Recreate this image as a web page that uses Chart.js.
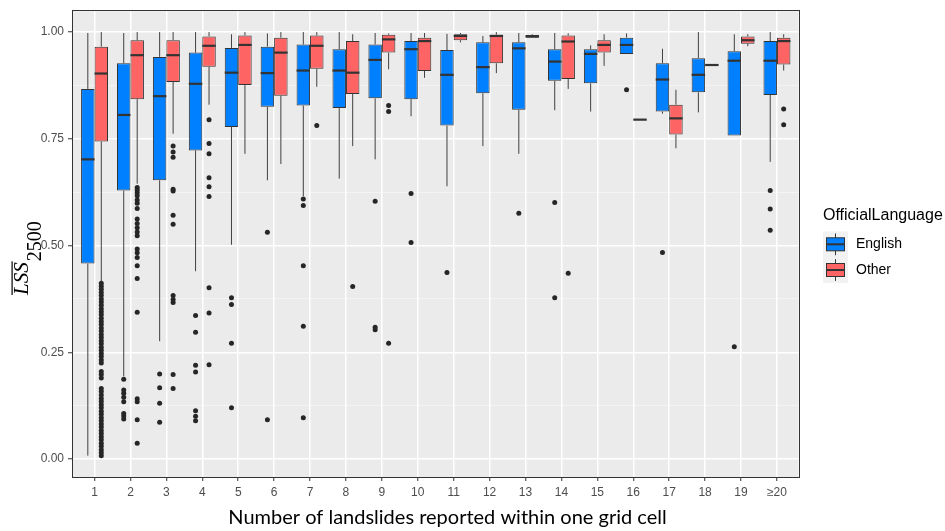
<!DOCTYPE html>
<html>
<head>
<meta charset="utf-8">
<script src="https://cdn.jsdelivr.net/npm/chart.js@4.4.1/dist/chart.umd.min.js"></script>
<style>
  html, body { margin: 0; padding: 0; background: #fff; }
</style>
</head>
<body>
<canvas id="lssChart" width="945" height="531"></canvas>
<script>
// Categorias (número de deslizamentos por célula)
const xLabels = ['1','2','3','4','5','6','7','8','9','10','11','12','13','14','15','16','17','18','19','≥20'];
const categoryPositions = [1,2,3,4,5,6,7,8,9,10,11,12,13,14,15,16,17,18,19,20];

// Eixo Y
const yTickValues = [0, 0.25, 0.5, 0.75, 1];
const yMinorValues = [0.125, 0.375, 0.625, 0.875];

// English
const englishLow    = [0.008,0.194,0.276,0.440,0.502,0.653,0.616,0.657,0.702,0.803,0.639,0.733,0.715,0.817,0.814,0.949,0.809,0.812,0.758,0.696];
const englishQ1     = [0.458,0.629,0.653,0.723,0.778,0.825,0.828,0.822,0.845,0.843,0.781,0.857,0.818,0.886,0.880,0.949,0.814,0.859,0.758,0.853];
const englishMedian = [0.702,0.806,0.850,0.879,0.905,0.904,0.910,0.910,0.935,0.960,0.900,0.918,0.962,0.931,0.949,0.970,0.889,0.900,0.933,0.933];
const englishQ3     = [0.867,0.927,0.942,0.952,0.963,0.966,0.971,0.960,0.971,0.979,0.958,0.976,0.976,0.960,0.960,0.987,0.927,0.939,0.955,0.979];
const englishHigh   = [0.998,0.998,1.000,1.000,0.995,0.997,1.000,1.000,0.998,0.998,0.996,0.991,0.998,0.998,0.969,0.997,0.961,1.000,0.995,1.000];
const englishOutliers = [
    [],
    [0.187,0.162,0.154,0.145,0.134,0.107,0.101,0.094],
    [0.199,0.167,0.131,0.086],
    [0.336,0.297,0.220,0.204,0.113,0.100,0.090],
    [0.378,0.362,0.271,0.120],
    [0.531,0.092],
    [0.609,0.594,0.453,0.311,0.097],
    [],
    [0.604,0.309,0.303],
    [0.622,0.507],
    [0.437],
    [],
    [0.576],
    [0.601,0.378],
    [],
    [0.865],
    [0.484],
    [],
    [0.263],
    [0.629,0.586,0.536]
];

// Other
const otherLow    = [0.412,0.645,0.762,0.830,0.715,0.691,0.872,0.733,0.913,0.893,0.976,0.904,0.987,0.867,0.921,0.795,0.728,0.923,0.967,0.910];
const otherQ1     = [0.744,0.843,0.883,0.919,0.876,0.851,0.914,0.855,0.952,0.909,0.981,0.927,0.987,0.890,0.952,0.795,0.760,0.923,0.973,0.924];
const otherMedian = [0.903,0.946,0.946,0.968,0.970,0.952,0.968,0.905,0.983,0.979,0.991,0.991,0.990,0.978,0.970,0.795,0.798,0.923,0.981,0.979];
const otherQ3     = [0.966,0.981,0.981,0.990,0.992,0.987,0.992,0.979,0.994,0.987,0.995,0.994,0.993,0.992,0.981,0.795,0.830,0.923,0.990,0.987];
const otherHigh   = [1.000,1.000,1.000,1.000,1.000,1.000,1.000,0.995,0.997,0.998,0.998,1.000,0.995,0.997,0.995,0.795,0.865,0.923,0.995,0.995];
const otherOutliers = [
    [0.412,0.405,0.398,0.390,0.383,0.375,0.368,0.360,0.352,0.345,0.338,0.330,0.322,0.315,0.307,0.300,0.292,0.285,0.277,0.270,
     0.262,0.255,0.247,0.240,0.232,0.225,0.205,0.198,0.190,0.165,0.158,0.150,0.142,0.135,0.127,0.120,0.112,0.105,0.097,0.090,
     0.082,0.075,0.067,0.060,0.052,0.045,0.037,0.030,0.022,0.015,0.008],
    [0.636,0.630,0.624,0.617,0.607,0.599,0.587,0.562,0.552,0.542,0.532,0.523,0.492,0.483,0.472,0.453,0.423,0.344,0.141,0.134,0.092,0.037],
    [0.733,0.719,0.707,0.632,0.628,0.571,0.550,0.383,0.374,0.367,0.198,0.165],
    [0.795,0.739,0.715,0.659,0.638,0.615,0.401,0.342,0.221],
    [],
    [],
    [0.781],
    [0.404],
    [0.828,0.814,0.271],
    [],
    [],
    [],
    [],
    [0.435],
    [],
    [],
    [],
    [],
    [],
    [0.820,0.783]
];

const legendTitle = 'OfficialLanguage';
const xTitle = 'Number of landslides reported within one grid cell';

// Monta os dados das caixas (Q1 até Q3) como barras flutuantes
function boxData(q1, q3) {
    return categoryPositions.map((x, i) => ({ x: x, y: [q1[i], q3[i]] }));
}

function isMajor(v) {
    return yTickValues.some(t => Math.abs(t - v) < 1e-9);
}

Chart.defaults.font.family = '"Liberation Sans", Arial, sans-serif';

// Fundo cinza do painel
const panelBackground = {
    id: 'panelBackground',
    beforeDraw(chart) {
        const { ctx, chartArea: a } = chart;
        ctx.save();
        ctx.fillStyle = '#EBEBEB';
        ctx.fillRect(a.left, a.top, a.right - a.left, a.bottom - a.top);
        ctx.restore();
    }
};

// Bigodes, medianas e outliers
const boxPlotParts = {
    id: 'boxPlotParts',
    afterDatasetsDraw(chart) {
        const c = chart.ctx;
        const y = chart.scales.y;
        chart.data.datasets.forEach((ds, d) => {
            const meta = chart.getDatasetMeta(d);
            const s = ds.stats;
            meta.data.forEach((bar, i) => {
                const x = bar.x;
                const half = bar.width / 2;
                c.save();
                c.strokeStyle = '#404040';
                c.lineWidth = 1;
                c.beginPath();
                c.moveTo(x, y.getPixelForValue(s.high[i]));
                c.lineTo(x, y.getPixelForValue(s.q3[i]));
                c.moveTo(x, y.getPixelForValue(s.q1[i]));
                c.lineTo(x, y.getPixelForValue(s.low[i]));
                c.stroke();

                const ym = y.getPixelForValue(s.median[i]);
                c.strokeStyle = '#333333';
                c.lineWidth = 2.2;
                c.beginPath();
                c.moveTo(x - half, ym);
                c.lineTo(x + half, ym);
                c.stroke();

                c.fillStyle = '#262626';
                s.outliers[i].forEach(v => {
                    c.beginPath();
                    c.arc(x, y.getPixelForValue(v), 2.5, 0, Math.PI * 2);
                    c.fill();
                });
                c.restore();
            });
        });
    }
};

// Borda do painel, títulos dos eixos e legenda
const decorations = {
    id: 'decorations',
    afterDraw(chart) {
        const c = chart.ctx;
        const a = chart.chartArea;
        c.save();
        c.strokeStyle = '#333333';
        c.lineWidth = 1;
        c.strokeRect(Math.round(a.left) - 0.5, Math.round(a.top) - 0.5, Math.round(a.right - a.left) + 1, Math.round(a.bottom - a.top) + 1);

        // título do eixo X
        c.fillStyle = '#000000';
        c.textAlign = 'center';
        c.textBaseline = 'middle';
        c.font = '20px Lato';
        c.fillText(xTitle, 447.5, 518);

        // título do eixo Y: LSS com barra e índice 2500
        c.translate(28, 295);
        c.rotate(-Math.PI / 2);
        c.textAlign = 'left';
        c.textBaseline = 'alphabetic';
        c.font = 'italic 21px "Liberation Serif"';
        c.fillText('LSS', 0, 0);
        const w = c.measureText('LSS').width;
        c.fillRect(0, -16.5, w + 1, 1.2);
        c.font = '20px "Liberation Serif"';
        c.fillText('2500', w + 1, 13);
        c.restore();

        // legenda
        c.save();
        c.textAlign = 'left';
        c.textBaseline = 'middle';
        c.fillStyle = '#000000';
        c.font = '16px "Liberation Sans"';
        c.fillText(legendTitle, 823, 215.5);
        chart.data.datasets.forEach((ds, d) => {
            const top = 231.5 + d * 25.7;
            const cy = top + 12.8;
            c.fillStyle = '#F2F2F2';
            c.fillRect(823, top, 25, 25.7);
            c.strokeStyle = '#333333';
            c.lineWidth = 1;
            c.beginPath();
            c.moveTo(835.5, top + 2);
            c.lineTo(835.5, top + 23.7);
            c.stroke();
            c.fillStyle = ds.backgroundColor;
            c.fillRect(826.5, cy - 6.5, 18, 13);
            c.strokeRect(826.5, cy - 6.5, 18, 13);
            c.lineWidth = 2;
            c.beginPath();
            c.moveTo(826.5, cy);
            c.lineTo(844.5, cy);
            c.stroke();
            c.fillStyle = '#000000';
            c.font = '14px "Liberation Sans"';
            c.fillText(ds.label, 856, cy);
        });
        c.restore();
    }
};

const ctx = document.getElementById('lssChart').getContext('2d');
const lssChart = new Chart(ctx, {
    type: 'bar',
    data: {
        datasets: [
            {
                label: 'English',
                data: boxData(englishQ1, englishQ3),
                backgroundColor: '#0080FF',
                borderColor: '#333333',
                borderWidth: 1,
                borderSkipped: false,
                categoryPercentage: 0.75,
                barPercentage: 1,
                stats: { low: englishLow, q1: englishQ1, median: englishMedian, q3: englishQ3, high: englishHigh, outliers: englishOutliers }
            },
            {
                label: 'Other',
                data: boxData(otherQ1, otherQ3),
                backgroundColor: '#FF6464',
                borderColor: '#333333',
                borderWidth: 1,
                borderSkipped: false,
                categoryPercentage: 0.75,
                barPercentage: 1,
                stats: { low: otherLow, q1: otherQ1, median: otherMedian, q3: otherQ3, high: otherHigh, outliers: otherOutliers }
            }
        ]
    },
    options: {
        responsive: false,
        animation: false,
        layout: { padding: { left: 0, top: 10, right: 146.5, bottom: 0 } },
        plugins: {
            legend: { display: false },
            tooltip: { enabled: false }
        },
        scales: {
            x: {
                type: 'linear',
                min: 0.4,
                max: 20.6,
                bounds: 'data',
                offset: false,
                afterBuildTicks: s => { s.ticks = categoryPositions.map(v => ({ value: v })); },
                afterFit: s => { s.height = 54; },
                ticks: {
                    callback: v => xLabels[categoryPositions.indexOf(v)],
                    color: '#4D4D4D',
                    font: { size: 12 },
                    padding: 4,
                    maxRotation: 0,
                    autoSkip: false
                },
                grid: { color: '#FFFFFF', lineWidth: 1.5, tickColor: '#333333', tickLength: 4, tickWidth: 1, offset: false },
                border: { display: false }
            },
            y: {
                min: -0.042,
                max: 1.049,
                bounds: 'data',
                afterBuildTicks: s => {
                    s.ticks = yTickValues.concat(yMinorValues).sort((a, b) => a - b).map(v => ({ value: v }));
                },
                afterFit: s => { s.width = 73; },
                ticks: {
                    callback: v => isMajor(v) ? v.toFixed(2) : '',
                    color: '#4D4D4D',
                    font: { size: 12 },
                    padding: 4,
                    autoSkip: false
                },
                grid: {
                    color: c => isMajor(c.tick.value) ? '#FFFFFF' : 'rgba(255,255,255,0.6)',
                    lineWidth: c => isMajor(c.tick.value) ? 1.5 : 0.8,
                    tickColor: c => isMajor(c.tick.value) ? '#333333' : 'rgba(0,0,0,0)',
                    tickLength: 5,
                    tickWidth: 1
                },
                border: { display: false }
            }
        }
    },
    plugins: [panelBackground, boxPlotParts, decorations]
});
</script>
</body>
</html>
